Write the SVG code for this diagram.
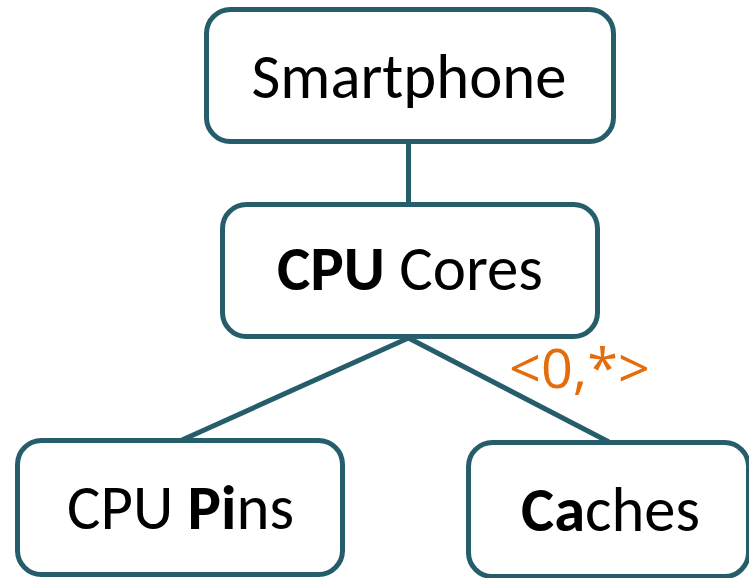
<svg xmlns="http://www.w3.org/2000/svg" width="749" height="578" viewBox="0 0 749 578">
  <style>
    .box { fill: #ffffff; stroke: #255D6B; stroke-width: 5; }
    .edge { stroke: #255D6B; stroke-width: 5; fill: none; }
    .label { font-family: Carlito, Lato, "Liberation Sans", sans-serif; font-size: 63px; fill: #000000; text-anchor: middle; }
    .b { font-weight: bold; }
    .mult { font-family: "Open Sans", "Liberation Sans", sans-serif; font-size: 54px; fill: #E46C0A; }
  </style>
  <rect width="749" height="578" fill="#ffffff"/>
  <g id="connectors">
    <line class="edge" x1="408.5" y1="142" x2="408.5" y2="204"/>
    <line class="edge" x1="408.5" y1="338" x2="182" y2="440"/>
    <line class="edge" x1="408.5" y1="338" x2="609" y2="442"/>
    <text class="mult" x="509" y="388" textLength="141" lengthAdjust="spacingAndGlyphs">&lt;0,*&gt;</text>
  </g>
  <g id="smartphone">
    <rect class="box" x="206.5" y="9.5" width="407" height="132" rx="24"/>
    <text class="label" x="409" y="98" textLength="315" lengthAdjust="spacingAndGlyphs">Smartphone</text>
  </g>
  <g id="cpu-cores">
    <rect class="box" x="222.5" y="204.5" width="375" height="132" rx="24"/>
    <text class="label" x="410" y="290" textLength="266" lengthAdjust="spacingAndGlyphs"><tspan class="b">CPU</tspan> Cores</text>
  </g>
  <g id="cpu-pins">
    <rect class="box" x="17.5" y="440.5" width="325" height="134" rx="24"/>
    <text class="label" x="180.5" y="529" textLength="227" lengthAdjust="spacingAndGlyphs">CPU <tspan class="b">Pi</tspan>ns</text>
  </g>
  <g id="caches">
    <rect class="box" x="468.5" y="442.5" width="280" height="134" rx="24"/>
    <text class="label" x="610.5" y="531" textLength="179" lengthAdjust="spacingAndGlyphs"><tspan class="b">Ca</tspan>ches</text>
  </g>
</svg>
